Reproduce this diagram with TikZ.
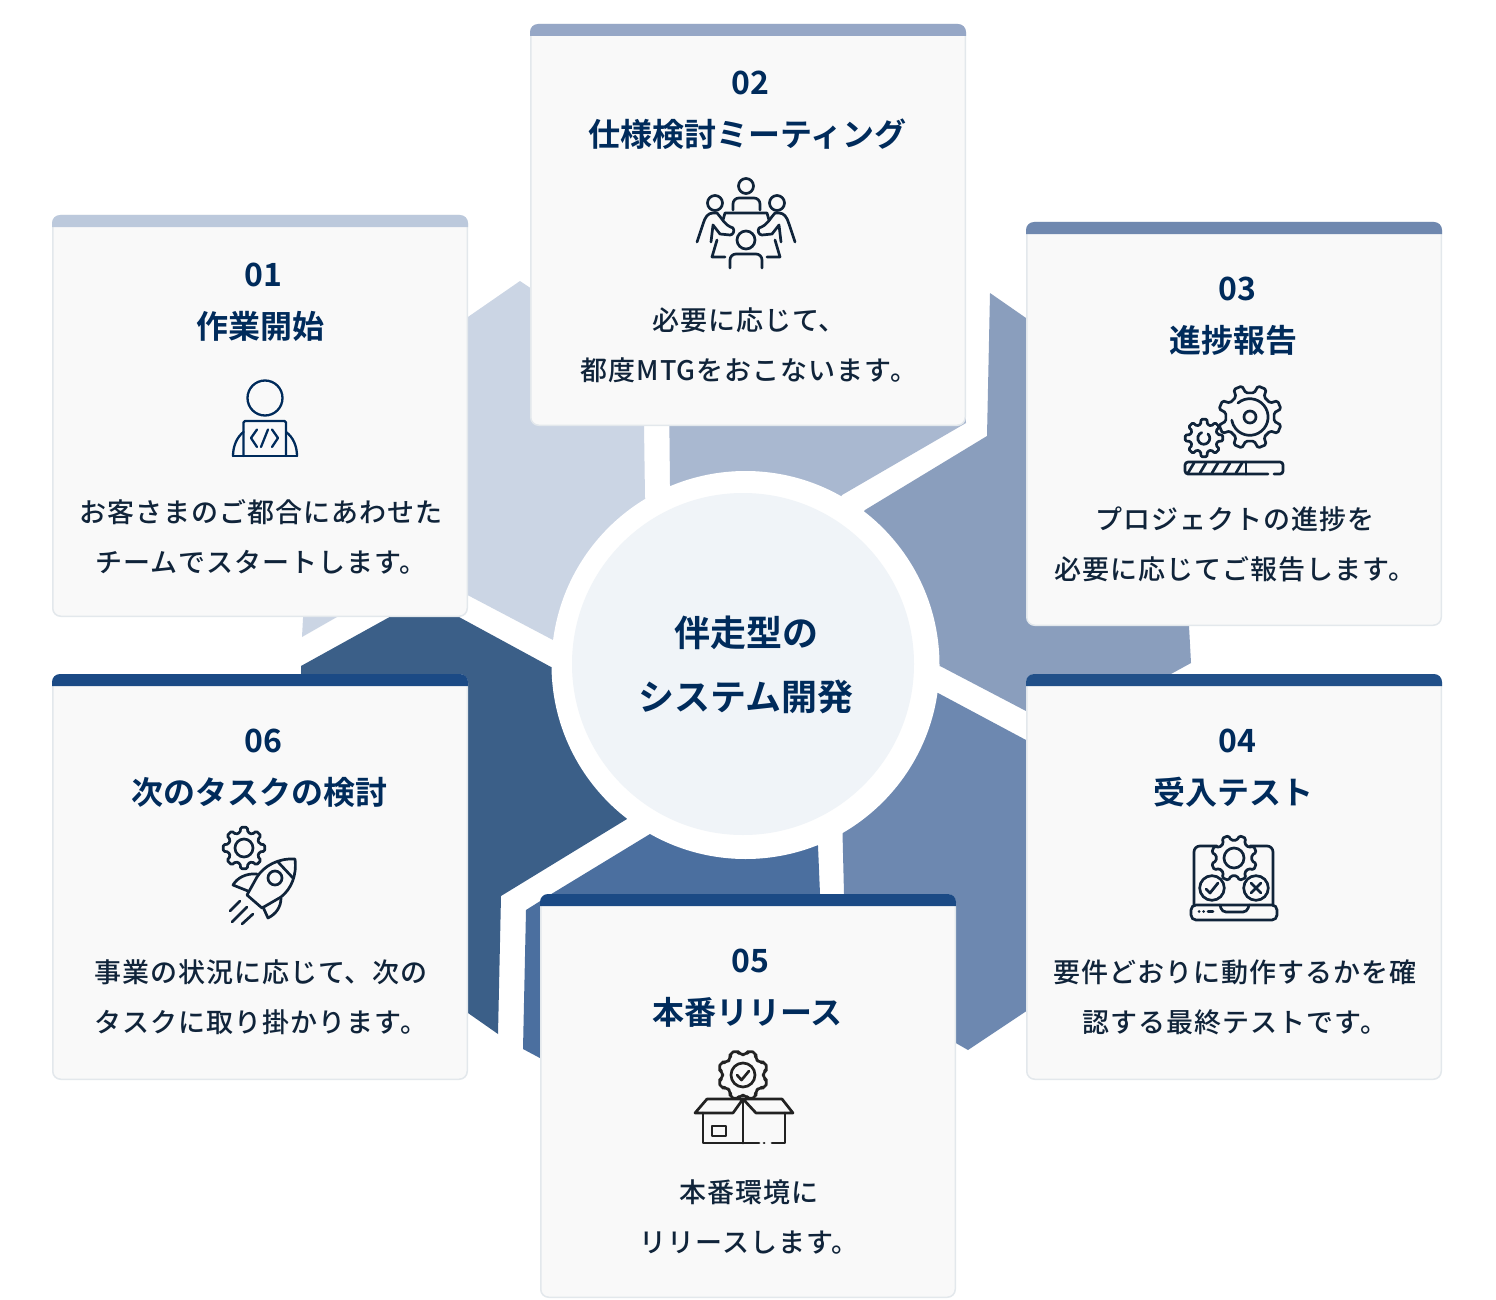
\documentclass[tikz,border=0pt]{standalone}
\usepackage{fontspec}
\setmainfont{Noto Sans CJK JP}[BoldFont=* Bold]
\newfontfamily\bodyjp{Noto Sans CJK JP Medium}[LetterSpace=3.7]
\definecolor{navy}{HTML}{002B5B}
\definecolor{ink}{HTML}{10243A}
\definecolor{cardfill}{HTML}{F9F9F9}
\definecolor{cardline}{HTML}{E3E8EC}
\definecolor{hexa}{HTML}{CBD5E4}
\definecolor{hexb}{HTML}{A9B8D0}
\definecolor{hexc}{HTML}{8A9EBD}
\definecolor{hexd}{HTML}{6D88B0}
\definecolor{hexe}{HTML}{4B6F9F}
\definecolor{hexf}{HTML}{3B5F88}
\definecolor{hubfill}{HTML}{F0F4F8}
\definecolor{bara}{HTML}{BCC9DC}
\definecolor{barb}{HTML}{96A7C6}
\definecolor{barc}{HTML}{6F88AF}
\definecolor{bard}{HTML}{215089}
\definecolor{bare}{HTML}{1B4A85}
\tikzset{
  card/.style 2 args={draw=cardline,line width=1.5pt,fill=cardfill,rounded corners=8pt,
    inner sep=0pt,minimum width=#1,minimum height=#2},
  numtext/.style={text=navy,font=\fontsize{32}{36}\selectfont\bfseries,inner sep=0pt},
  titletext/.style={text=navy,font=\fontsize{32}{36}\selectfont\bfseries,inner sep=0pt},
  bodytext/.style={text=ink,font=\fontsize{27}{50}\selectfont\bodyjp,align=center,inner sep=0pt},
  hubtext/.style={text=navy,font=\fontsize{36}{64}\selectfont\bfseries,align=center,inner sep=0pt},
  icon/.style={draw=ink,line width=2.7pt,line cap=round,line join=round},
}
% coloured band along the top of a card: node name, colour
\newcommand\cardband[2]{%
  \fill[#2] ([yshift=-12pt]#1.north west)
    [rounded corners=8pt] -- (#1.north west)
    -- (#1.north east)
    [sharp corners] -- ([yshift=-12pt]#1.north east) -- cycle;}
% cx, cy, teeth, outer, root, corner, start angle, half-width in degrees, colour
\newcommand\gearicon[9]{%
  \begin{scope}[shift={(#1,#2)}]
    \pgfmathsetmacro\gstep{360/#3}
    \draw[icon,draw=#9,rounded corners=#6pt] ({#7-#8*1.55}:#5)
      \foreach \gi [evaluate=\gi as \ga using #7+\gi*\gstep] in {0,...,\numexpr#3-1\relax} {
        -- ({\ga-#8*1.55}:#5) -- ({\ga-#8}:#4) -- ({\ga+#8}:#4) -- ({\ga+#8*1.55}:#5)
      } -- cycle;
  \end{scope}}
\begin{document}
\begin{tikzpicture}[x=1pt,y=-1pt]
\useasboundingbox (0,0) rectangle (1496,1300);
\fill[white] (0,0) rectangle (1496,1300);
% hexagon pieces
\coordinate (hub) at (745.5,665);
\fill[hexa] (520,281)--(640,362)--(644,426)--(645,498)--(hub)--(553,640)--(420,570)--(337,617)--(302,637)--(304,600)--(304,420)--(400,364)--cycle;
\fill[hexb] (668,300)--(960,300)--(966,423)--(842,495)--(hub)--(670,485)--cycle;
\fill[hexc] (990,293)--(1026,318)--(1185,420)--(1189,626)--(1191,663)--(1120,702)--(1026,740)--(1026,711)--(940,666)--(hub)--(865,510)--(987,436)--cycle;
\fill[hexd] (938,693)--(1026,740)--(1100,780)--(1100,960)--(1025,1012)--(968,1050)--(940,1034)--(844,1000)--(844,894)--(842.5,833)--(hub)--cycle;
\fill[hexe] (650,834)--(553,893)--(526,910)--(523,1049)--(600,1090)--(820,1090)--(820,894)--(818,846)--(hub)--cycle;
\fill[hexf] (424,598)--(301,666)--(301,800)--(300,900)--(468,1013)--(498,1034)--(501,896)--(627,819)--(hub)--(551,667)--cycle;
% hub
\node[circle,fill=white,minimum size=388pt,inner sep=0pt] (hubring) at (hub) {};
\node[circle,fill=hubfill,minimum size=342pt,inner sep=0pt] (hubdisc) at (743,664) {};
\node[hubtext] (hublabel) at (746,665) {伴走型の\\システム開発};
% cards
\node[card={414.5pt}{400.5pt}] (c1) at (260,416) {}; \cardband{c1}{bara}
\node[card={434.5pt}{400.5pt}] (c2) at (748,225) {}; \cardband{c2}{barb}
\node[card={414.5pt}{402.5pt}] (c3) at (1234,424) {}; \cardband{c3}{barc}
\node[card={414.5pt}{404.5pt}] (c4) at (1234,877) {}; \cardband{c4}{bard}
\node[card={414.5pt}{402.5pt}] (c5) at (748,1096) {}; \cardband{c5}{bare}
\node[card={414.5pt}{404.5pt}] (c6) at (260,877) {}; \cardband{c6}{bare}
% card text
\node[numtext] (n1) at (263,275) {01};
\node[titletext] (t1) at (260,326) {作業開始};
\node[bodytext] (b1) at (261,536.6) {お客さまのご都合にあわせた\\チームでスタートします。};
\node[numtext] (n2) at (750,83) {02};
\node[titletext] (t2) at (747.5,134) {仕様検討ミーティング};
\node[bodytext] (b2) at (749,345) {必要に応じて、\\都度MTGをおこないます。};
\node[numtext] (n3) at (1237,289) {03};
\node[titletext] (t3) at (1233,340) {進捗報告};
\node[bodytext] (b3) at (1235,544.6) {プロジェクトの進捗を\\必要に応じてご報告します。};
\node[numtext] (n4) at (1237,741) {04};
\node[titletext] (t4) at (1233,792) {受入テスト};
\node[bodytext] (b4) at (1235,997) {要件どおりに動作するかを確\\認する最終テストです。};
\node[numtext] (n5) at (750,961) {05};
\node[titletext] (t5) at (747.5,1012) {本番リリース};
\node[bodytext] (b5) at (749,1216.6) {本番環境に\\リリースします。};
\node[numtext] (n6) at (263,741) {06};
\node[titletext] (t6) at (259,792) {次のタスクの検討};
\node[bodytext] (b6) at (261,997) {事業の状況に応じて、次の\\タスクに取り掛かります。};
% icon 1: person with laptop
\begin{scope}[icon,draw=navy,line width=2.3pt]
  \draw (265,398) circle (17.5);
  \draw[rounded corners=1.5pt] (243.5,456) -- (243.5,421) -- (286,421) -- (286,456);
  \draw (233,456) -- (297,456);
  \draw (233,456) .. controls (233,446) and (237,437) .. (243.5,432);
  \draw (297,456) .. controls (297,446) and (293,437) .. (286,432);
  \draw (257,429.5) -- (251,438) -- (257,447);
  \draw (272,429.5) -- (278,438) -- (272,447);
  \draw (268,429.5) -- (261,447);
\end{scope}
% icon 2: meeting
\begin{scope}[icon]
  \draw (746,186) circle (7.5);
  \draw[rounded corners=6pt] (733,210) -- (733,198) -- (760,198) -- (760,210);
  \draw (715,203) circle (7.5);
  \draw (777,203) circle (7.5);
  \draw (723,220) -- (725,213) -- (767,213) -- (769,220);
  \draw (697,242) -- (703,224) .. controls (705,217) and (708,213) .. (713,213) -- (717,213) .. controls (722,218) and (724,225) .. (733,228) .. controls (735,231) and (733,235) .. (730,235) -- (720,234) -- (713,225) -- (711,242);
  \draw (795,242) -- (789,224) .. controls (787,217) and (784,213) .. (779,213) -- (775,213) .. controls (770,218) and (768,225) .. (759,228) .. controls (757,231) and (759,235) .. (762,235) -- (772,234) -- (779,225) -- (781,242);
  \draw (746,240) circle (9);
  \draw[rounded corners=6pt] (730,268) -- (730,254) -- (762,254) -- (762,268);
  \draw (717,240) -- (712,257) -- (725,257);
  \draw (775,240) -- (780,257) -- (767,257);
\end{scope}
% icon 3: gears and progress bar
\gearicon{1250}{417}{8}{32}{24.5}{1.6}{22.5}{8}{ink}
\gearicon{1204}{438}{8}{19}{14}{1.2}{0}{9}{ink}
\begin{scope}[icon]
  \draw (1250,417) circle (6);
  \draw (1238,403) arc[start angle=-130,end angle=170,radius=18.3];
  \draw (1208,434) arc[start angle=-45,end angle=250,radius=6];
  \draw[rounded corners=3pt] (1268,474) -- (1185,474) -- (1185,462) -- (1283,462) -- (1283,474) -- (1274,474);
  \draw (1246,462) -- (1246,474);
  \foreach \hx in {1190,1202,1214,1226,1238} \draw (\hx+4,463) -- (\hx-2,473);
\end{scope}
% icon 4: laptop with gear
\begin{scope}[icon]
  \draw[rounded corners=6pt] (1217,846) -- (1194,846) -- (1194,905);
  \draw[rounded corners=6pt] (1250,846) -- (1273,846) -- (1273,905);
\end{scope}
\gearicon{1234}{858}{8}{23}{18}{1.5}{22.5}{8.5}{ink}
\begin{scope}[icon]
  \draw (1234,858) circle (10);
  \draw (1212,888) circle (12.3);
  \draw (1256,888) circle (12.3);
  \draw (1206,889) -- (1210,893) -- (1218,883);
  \draw (1251,883) -- (1261,893) (1261,883) -- (1251,893);
  \draw[rounded corners=5pt] (1191,905) -- (1191,920) -- (1277,920) -- (1277,905) -- cycle;
  \draw[rounded corners=4pt] (1220,905) -- (1222,912) -- (1247,912) -- (1249,905);
  \draw (1199,911.5) -- (1199.2,911.5) (1203.5,911.5) -- (1203.7,911.5) (1208,911.5) -- (1213,911.5);
\end{scope}
% icon 5: box with gear
\definecolor{boxink}{HTML}{222222}
\gearicon{743}{1075}{8}{25.5}{20.5}{4}{22.5}{9}{boxink}
\begin{scope}[icon,draw=boxink]
  \draw (743,1075) circle (12);
  \draw (737,1075) -- (741.5,1080) -- (749,1071);
  \draw (743,1099) -- (707,1099) -- (695,1113) -- (733,1113) -- cycle;
  \draw (743,1099) -- (782,1099) -- (793,1113) -- (756,1113) -- cycle;
  \draw (703,1113) -- (703,1143) -- (759,1143);
  \draw (743,1099) -- (743,1143);
  \draw (785,1113) -- (785,1143) -- (772,1143);
  \draw (764,1143) -- (764.2,1143);
  \draw (712,1126) rectangle (726,1136);
\end{scope}
% icon 6: rocket with gear
\gearicon{244}{848}{8}{21}{16}{1.4}{0}{9}{ink}
\begin{scope}[icon]
  \draw (244,848) circle (9);
  \draw (295,859) .. controls (278,858) and (264,866) .. (257,877) -- (247,895) -- (262,908) -- (281,897) .. controls (291,889) and (297,876) .. (295,859) -- cycle;
  \draw (278,862) -- (293,878);
  \draw (275,878) circle (7);
  \draw (257,874) .. controls (246,873) and (237,878) .. (233,885) -- (248,891);
  \draw (281,898) .. controls (281,907) and (276,914) .. (268,918) -- (263,907);
  \draw (230,911) -- (240,901);
  \draw (232,922) -- (247,907);
  \draw (242,924) -- (253,914);
\end{scope}
\end{tikzpicture}
\end{document}
